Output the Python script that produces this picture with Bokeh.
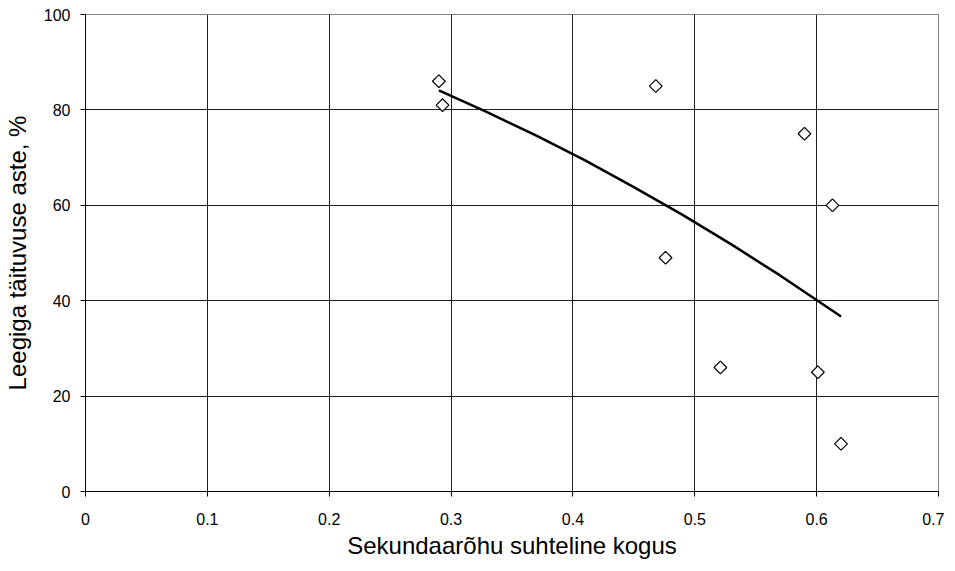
import numpy as np
from bokeh.plotting import figure
from bokeh.models import Range1d, FixedTicker
from bokeh.embed import file_html
from bokeh.resources import INLINE

# data
pts_x = [0.290, 0.293, 0.468, 0.476, 0.521, 0.590, 0.613, 0.601, 0.620]
pts_y = [86, 81, 85, 49, 26, 75, 60, 25, 10]

trend_x = [0.29, 0.33, 0.37, 0.41, 0.45, 0.49, 0.53, 0.57, 0.61, 0.62]
trend_y = [84.1, 79.5, 74.6, 69.4, 63.8, 58.0, 51.8, 45.3, 38.4, 36.7]

x_ticks = [0, 0.1, 0.2, 0.3, 0.4, 0.5, 0.6, 0.7]
x_tick_labels = ["0", "0.1", "0.2", "0.3", "0.4", "0.5", "0.6", "0.7"]
y_ticks = [0, 20, 40, 60, 80, 100]

x_title = "Sekundaarõhu suhteline kogus"
y_title = "Leegiga täituvuse aste, %"

FONT = "Liberation Sans"

p = figure(frame_width=853, frame_height=477,
           x_range=Range1d(0, 0.7), y_range=Range1d(0, 100),
           output_backend="svg", toolbar_location=None,
           min_border_left=78, min_border_top=14, min_border_right=6, min_border_bottom=66)

p.background_fill_color = "white"
p.border_fill_color = "white"
p.outline_line_color = "#808080"
p.outline_line_width = 1

for g in (p.xgrid, p.ygrid):
    g.grid_line_color = "#202020"
    g.grid_line_width = 1
p.xgrid.ticker = FixedTicker(ticks=x_ticks)
p.ygrid.ticker = FixedTicker(ticks=y_ticks)

p.xaxis.ticker = FixedTicker(ticks=x_ticks)
p.yaxis.ticker = FixedTicker(ticks=y_ticks)
p.xaxis.major_label_overrides = {t: l for t, l in zip(x_ticks, x_tick_labels)}

for ax in (p.xaxis, p.yaxis):
    ax.axis_line_color = "black"
    ax.major_tick_line_color = "black"
    ax.major_tick_out = 5
    ax.major_tick_in = 0
    ax.minor_tick_line_color = None
    ax.major_label_text_font = FONT
    ax.major_label_text_font_size = "16px"
    ax.major_label_text_color = "black"
    ax.axis_label_text_font = FONT
    ax.axis_label_text_font_size = "24px"
    ax.axis_label_text_font_style = "normal"
    ax.axis_label_text_color = "black"

p.xaxis.axis_label = x_title
p.yaxis.axis_label = y_title
p.xaxis.major_label_standoff = 16
p.yaxis.major_label_standoff = 10
p.xaxis.axis_label_standoff = 4
p.yaxis.axis_label_standoff = 10

p.line(trend_x, trend_y, line_color="black", line_width=2.5)
p.scatter(pts_x, pts_y, marker="square", angle=np.pi / 4, size=9,
          fill_color="white", line_color="black", line_width=1.2)

open("out.html", "w").write(file_html(p, INLINE))
